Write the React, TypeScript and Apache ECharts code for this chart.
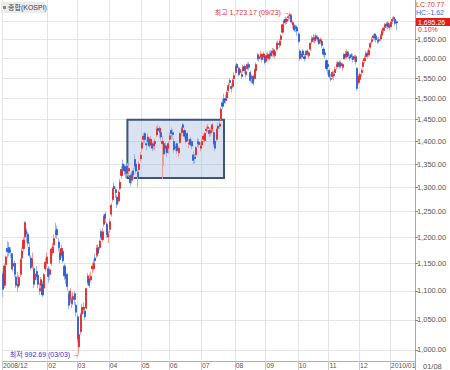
import { useEffect, useRef } from "react";
import * as echarts from "echarts";

// ---- trading days and OHLC ([open, close, low, high]) per month ----
const dec2008Days = [12, 15, 16, 17, 18, 19, 22, 23, 24, 26, 29, 30];
const dec2008 = [
  [1130, 1103, 1089, 1135], [1110, 1145, 1105, 1150], [1148, 1162, 1140, 1165], [1178, 1172, 1160, 1192],
  [1180, 1170, 1163, 1190], [1175, 1172, 1160, 1180], [1168, 1140, 1138, 1170], [1145, 1150, 1135, 1158],
  [1150, 1130, 1125, 1155], [1125, 1110, 1105, 1128], [1112, 1108, 1098, 1135], [1110, 1124, 1105, 1128],
];
const jan2009Days = [2, 5, 6, 7, 8, 9, 12, 13, 14, 15, 16, 19, 20, 21, 22, 23, 28, 29, 30];
const jan2009 = [
  [1130, 1157, 1125, 1160], [1160, 1173, 1150, 1180], [1178, 1194, 1172, 1200], [1200, 1228, 1195, 1231],
  [1212, 1206, 1190, 1218], [1205, 1188, 1180, 1210], [1180, 1165, 1160, 1190], [1160, 1142, 1137, 1165],
  [1145, 1158, 1140, 1170], [1140, 1112, 1105, 1145], [1120, 1130, 1112, 1140], [1135, 1126, 1120, 1145],
  [1128, 1112, 1105, 1132], [1100, 1104, 1093, 1115], [1110, 1120, 1100, 1125], [1112, 1093, 1089, 1118],
  [1105, 1129, 1100, 1132], [1140, 1152, 1135, 1160], [1150, 1162, 1140, 1170],
];
const feb2009Days = [2, 3, 4, 5, 6, 9, 10, 11, 12, 13, 16, 17, 18, 19, 20, 23, 24, 25, 26, 27];
const feb2009 = [
  [1140, 1126, 1115, 1145], [1130, 1138, 1120, 1142], [1150, 1177, 1145, 1180], [1170, 1181, 1165, 1188],
  [1185, 1197, 1178, 1205], [1205, 1212, 1198, 1228], [1215, 1204, 1196, 1222], [1190, 1180, 1172, 1198],
  [1170, 1157, 1150, 1178], [1165, 1178, 1160, 1185], [1172, 1155, 1150, 1178], [1145, 1127, 1120, 1150],
  [1122, 1128, 1112, 1135], [1130, 1108, 1100, 1132], [1095, 1075, 1068, 1100], [1085, 1100, 1078, 1105],
  [1085, 1078, 1070, 1090], [1085, 1090, 1075, 1098], [1095, 1085, 1075, 1100], [1075, 1063, 1055, 1080],
];
const mar2009Days = [2, 3, 4, 5, 6, 9, 10, 11, 12, 13, 16, 17, 18, 19, 20, 23, 24, 25, 26, 27, 30, 31];
const mar2009 = [
  [1055, 1018, 1012, 1060], [1005, 1025, 992.69, 1030], [1030, 1059, 1025, 1062], [1060, 1071, 1052, 1078],
  [1068, 1071, 1060, 1080], [1065, 1055, 1050, 1072], [1070, 1104, 1068, 1106], [1115, 1127, 1110, 1132],
  [1122, 1110, 1105, 1130], [1120, 1126, 1115, 1135], [1140, 1145, 1132, 1152], [1140, 1150, 1135, 1158],
  [1160, 1155, 1148, 1168], [1165, 1178, 1160, 1185], [1180, 1169, 1162, 1186], [1180, 1192, 1175, 1195],
  [1210, 1200, 1195, 1215], [1195, 1210, 1190, 1218], [1225, 1240, 1220, 1245], [1245, 1237, 1228, 1250],
  [1225, 1205, 1198, 1230], [1200, 1206, 1188, 1212],
];
const apr2009Days = [1, 2, 3, 6, 7, 8, 9, 10, 13, 14, 15, 16, 17, 20, 21, 22, 23, 24, 27, 28, 29, 30];
const apr2009 = [
  [1215, 1230, 1208, 1236], [1245, 1263, 1240, 1268], [1275, 1297, 1270, 1300], [1302, 1297, 1288, 1310],
  [1295, 1289, 1278, 1300], [1280, 1265, 1258, 1285], [1272, 1290, 1268, 1295], [1298, 1311, 1294, 1318],
  [1325, 1338, 1318, 1345], [1350, 1340, 1332, 1360], [1345, 1335, 1326, 1350], [1330, 1336, 1320, 1344],
  [1345, 1330, 1324, 1352], [1335, 1340, 1326, 1348], [1325, 1310, 1302, 1330], [1315, 1328, 1308, 1334],
  [1335, 1327, 1318, 1342], [1360, 1345, 1338, 1372], [1350, 1335, 1328, 1356], [1332, 1322, 1300, 1338],
  [1338, 1350, 1332, 1356], [1362, 1369, 1356, 1376],
];
const may2009Days = [4, 6, 7, 8, 11, 12, 13, 14, 15, 18, 19, 20, 21, 22, 25, 26, 27, 28, 29];
const may2009 = [
  [1385, 1397, 1378, 1402], [1405, 1412, 1395, 1420], [1418, 1405, 1396, 1422], [1395, 1392, 1380, 1405],
  [1400, 1410, 1392, 1418], [1405, 1390, 1385, 1410], [1392, 1405, 1388, 1412], [1395, 1385, 1378, 1400],
  [1390, 1395, 1382, 1402], [1395, 1400, 1380, 1405], [1415, 1428, 1410, 1435], [1430, 1425, 1415, 1438],
  [1420, 1430, 1408, 1435], [1420, 1410, 1400, 1425], [1395, 1400, 1318, 1412], [1395, 1372, 1345, 1400],
  [1385, 1390, 1375, 1398], [1385, 1375, 1365, 1392], [1385, 1395, 1372, 1400],
];
const jun2009Days = [1, 2, 3, 4, 5, 8, 9, 10, 11, 12, 15, 16, 17, 18, 19, 22, 23, 24, 25, 26, 29, 30];
const jun2009 = [
  [1405, 1413, 1398, 1420], [1425, 1418, 1410, 1432], [1420, 1416, 1405, 1428], [1400, 1382, 1375, 1405],
  [1385, 1388, 1378, 1395], [1395, 1379, 1372, 1398], [1375, 1385, 1365, 1390], [1398, 1418, 1395, 1422],
  [1420, 1430, 1412, 1435], [1438, 1432, 1425, 1442], [1425, 1412, 1405, 1430], [1400, 1413, 1395, 1418],
  [1418, 1402, 1398, 1422], [1395, 1396, 1385, 1405], [1405, 1393, 1388, 1410], [1400, 1390, 1382, 1405],
  [1370, 1358, 1350, 1378], [1365, 1362, 1352, 1372], [1370, 1386, 1365, 1390], [1395, 1400, 1388, 1408],
  [1398, 1393, 1385, 1405], [1385, 1390, 1378, 1398],
];
const jul2009Days = [1, 2, 3, 6, 7, 8, 9, 10, 13, 14, 15, 16, 17, 20, 21, 22, 23, 24, 27, 28, 29, 30, 31];
const jul2009 = [
  [1392, 1400, 1385, 1405], [1405, 1412, 1398, 1418], [1402, 1418, 1398, 1422], [1425, 1428, 1418, 1435],
  [1430, 1433, 1422, 1440], [1425, 1418, 1410, 1430], [1420, 1425, 1412, 1432], [1428, 1438, 1420, 1442],
  [1420, 1395, 1388, 1425], [1400, 1385, 1378, 1408], [1405, 1428, 1400, 1432], [1435, 1430, 1425, 1442],
  [1435, 1440, 1428, 1446], [1452, 1475, 1450, 1480], [1490, 1482, 1475, 1500], [1500, 1490, 1482, 1512],
  [1500, 1496, 1488, 1510], [1502, 1515, 1495, 1520], [1520, 1532, 1515, 1540], [1545, 1540, 1530, 1550],
  [1530, 1525, 1515, 1538], [1530, 1545, 1525, 1550], [1550, 1557, 1545, 1565],
];
const aug2009Days = [3, 4, 5, 6, 7, 10, 11, 12, 13, 14, 17, 18, 19, 20, 21, 24, 25, 26, 27, 28, 31];
const aug2009 = [
  [1565, 1580, 1560, 1586], [1585, 1577, 1570, 1590], [1575, 1560, 1555, 1580], [1565, 1572, 1558, 1578],
  [1560, 1555, 1548, 1568], [1570, 1578, 1565, 1585], [1580, 1570, 1562, 1585], [1560, 1567, 1552, 1572],
  [1575, 1585, 1570, 1590], [1585, 1578, 1570, 1592], [1565, 1545, 1540, 1570], [1550, 1555, 1538, 1560],
  [1555, 1538, 1532, 1560], [1550, 1572, 1545, 1575], [1570, 1585, 1565, 1590], [1600, 1610, 1595, 1615],
  [1605, 1600, 1592, 1612], [1605, 1612, 1598, 1620], [1605, 1598, 1590, 1612], [1605, 1612, 1598, 1618],
  [1605, 1591, 1585, 1610],
];
const sep2009Days = [1, 2, 3, 4, 7, 8, 9, 10, 11, 14, 15, 16, 17, 18, 21, 22, 23, 24, 25, 28, 29, 30];
const sep2009 = [
  [1595, 1608, 1590, 1615], [1610, 1602, 1595, 1618], [1600, 1612, 1595, 1620], [1615, 1607, 1600, 1622],
  [1615, 1620, 1605, 1628], [1622, 1610, 1605, 1628], [1608, 1618, 1600, 1625], [1625, 1640, 1620, 1645],
  [1640, 1637, 1628, 1648], [1635, 1645, 1628, 1652], [1650, 1660, 1645, 1665], [1670, 1690, 1665, 1693],
  [1695, 1700, 1688, 1705], [1705, 1698, 1690, 1712], [1700, 1705, 1692, 1710], [1710, 1712, 1700, 1718],
  [1715, 1718, 1705, 1723.17], [1715, 1698, 1692, 1720], [1690, 1696, 1680, 1702], [1688, 1676, 1670, 1692],
  [1685, 1680, 1670, 1690], [1682, 1673, 1660, 1688],
];
const oct2009Days = [1, 5, 6, 7, 8, 9, 12, 13, 14, 15, 16, 19, 20, 21, 22, 23, 26, 27, 28, 29, 30];
const oct2009 = [
  [1665, 1645, 1640, 1670], [1620, 1600, 1595, 1625], [1605, 1612, 1598, 1618], [1620, 1610, 1602, 1625],
  [1605, 1600, 1593, 1612], [1610, 1618, 1605, 1622], [1620, 1612, 1605, 1625], [1608, 1615, 1600, 1620],
  [1625, 1640, 1620, 1645], [1645, 1652, 1638, 1660], [1655, 1650, 1642, 1665], [1648, 1655, 1640, 1662],
  [1660, 1652, 1645, 1666], [1650, 1656, 1642, 1662], [1650, 1640, 1635, 1655], [1645, 1650, 1638, 1655],
  [1645, 1635, 1628, 1650], [1625, 1612, 1605, 1630], [1615, 1610, 1600, 1620], [1595, 1575, 1568, 1600],
  [1585, 1580, 1560, 1592],
];
const nov2009Days = [2, 3, 4, 5, 6, 9, 10, 11, 12, 13, 16, 17, 18, 19, 20, 23, 24, 25, 26, 27, 30];
const nov2009 = [
  [1570, 1555, 1550, 1575], [1550, 1548, 1542, 1562], [1555, 1565, 1548, 1570], [1560, 1556, 1545, 1568],
  [1565, 1572, 1560, 1580], [1580, 1585, 1572, 1592], [1590, 1580, 1575, 1595], [1580, 1590, 1575, 1595],
  [1588, 1582, 1575, 1595], [1578, 1585, 1570, 1590], [1600, 1610, 1598, 1615], [1612, 1605, 1598, 1620],
  [1605, 1618, 1600, 1625], [1615, 1608, 1600, 1620], [1605, 1602, 1595, 1612], [1610, 1605, 1598, 1615],
  [1605, 1598, 1590, 1612], [1600, 1605, 1592, 1610], [1605, 1592, 1585, 1610], [1575, 1525, 1520, 1578],
  [1540, 1555, 1535, 1560],
];
const dec2009Days = [1, 2, 3, 4, 7, 8, 9, 10, 11, 14, 15, 16, 17, 18, 21, 22, 23, 24, 28, 29, 30];
const dec2009 = [
  [1548, 1560, 1540, 1565], [1565, 1570, 1555, 1575], [1580, 1590, 1575, 1596], [1595, 1600, 1588, 1608],
  [1605, 1612, 1598, 1620], [1615, 1608, 1600, 1622], [1610, 1622, 1605, 1628], [1630, 1640, 1625, 1645],
  [1645, 1650, 1638, 1658], [1655, 1660, 1648, 1665], [1665, 1655, 1648, 1668], [1660, 1650, 1642, 1665],
  [1648, 1645, 1638, 1655], [1650, 1648, 1640, 1658], [1652, 1660, 1645, 1666], [1662, 1672, 1658, 1678],
  [1675, 1680, 1668, 1685], [1683, 1690, 1678, 1695], [1692, 1688, 1680, 1698], [1685, 1695, 1678, 1700],
  [1690, 1683, 1675, 1695],
];
const jan2010Days = [4, 5, 6, 7, 8];
const jan2010 = [
  [1685, 1697, 1680, 1700], [1700, 1705, 1693, 1712], [1710, 1706, 1700, 1715], [1705, 1694, 1688, 1710],
  [1698, 1695.26, 1675, 1702],
];

// month key, axis tag ("" = no label / no grid line), days, values
const months: [string, string, number[], number[][]][] = [
  ["2008/12", "2008/12", dec2008Days, dec2008],
  ["2009/01", "", jan2009Days, jan2009],
  ["2009/02", "02", feb2009Days, feb2009],
  ["2009/03", "03", mar2009Days, mar2009],
  ["2009/04", "04", apr2009Days, apr2009],
  ["2009/05", "05", may2009Days, may2009],
  ["2009/06", "06", jun2009Days, jun2009],
  ["2009/07", "07", jul2009Days, jul2009],
  ["2009/08", "08", aug2009Days, aug2009],
  ["2009/09", "09", sep2009Days, sep2009],
  ["2009/10", "10", oct2009Days, oct2009],
  ["2009/11", "11", nov2009Days, nov2009],
  ["2009/12", "12", dec2009Days, dec2009],
  ["2010/01", "2010/01", jan2010Days, jan2010],
];

const yTickValues = [1000, 1050, 1100, 1150, 1200, 1250, 1300, 1350, 1400, 1450, 1500, 1550, 1600, 1650, 1700];
const yLabelValues = [1000, 1050, 1100, 1150, 1200, 1250, 1300, 1350, 1400, 1450, 1500, 1550, 1600, 1650];
const boxRange = { from: "2009/04/17", to: "2009/07/22", top: 1450, bottom: 1320 };
const lowPoint = { date: "2009/03/03", value: 992.69, text: "최저 992.69 (03/03)" };
const highPoint = { date: "2009/09/23", value: 1723.17, text: "최고 1,723.17 (09/23)" };
const infoLC = "LC:70.77";
const infoHC = "HC:-1.62";
const lastPrice = "1,695.26";
const lastChange = "0.10%";
const lastDate = "01/08";
const seriesName = "종합(KOSPI)";
const emptySlots = 12;

const FONT = "'Liberation Sans', 'Noto Sans CJK KR', sans-serif";

export default function App() {
  const ref = useRef<HTMLDivElement>(null);

  useEffect(() => {
    if (!ref.current) return;
    const chart = echarts.init(ref.current, undefined, { renderer: "svg" });

    const dates: string[] = [];
    const ohlc: number[][] = [];
    const tagAt = new Map<number, string>();
    months.forEach(([ym, tag, days, vals]) => {
      if (tag) tagAt.set(dates.length, tag);
      days.forEach((d, i) => {
        dates.push(`${ym}/${String(d).padStart(2, "0")}`);
        ohlc.push(vals[i]);
      });
    });
    for (let i = 0; i < emptySlots; i++) dates.push(`pad${i}`);

    const bodies = ohlc.map(([o, c]) => [o, c, Math.min(o, c), Math.max(o, c)]);
    const showTag = (idx: number) => tagAt.has(idx);
    const fmt = (v: number) =>
      Math.round(v).toLocaleString("en-US", { minimumFractionDigits: 2, maximumFractionDigits: 2 });

    chart.setOption({
      animation: false,
      backgroundColor: "#ffffff",
      grid: { left: 0, right: 35, top: 0, bottom: 9, containLabel: false },
      xAxis: {
        type: "category",
        data: dates,
        boundaryGap: true,
        axisLine: { show: true, lineStyle: { color: "#b0b0b0", width: 1 } },
        axisTick: { show: true, interval: showTag, length: 9, lineStyle: { color: "#c8c8c8" } },
        axisLabel: {
          interval: showTag,
          formatter: (_v: string, i: number) => tagAt.get(i) ?? "",
          align: "left",
          margin: 1,
          fontSize: 6.8,
          color: "#555555",
          fontFamily: FONT,
        },
        splitLine: { show: true, interval: showTag, lineStyle: { color: "#e4e4e4" } },
      },
      yAxis: {
        type: "log",
        logBase: 10,
        min: 982.4,
        max: 1759,
        position: "right",
        axisLine: { show: true, lineStyle: { color: "#a8a8a8" } },
        axisTick: { show: true, customValues: yTickValues, length: 3, lineStyle: { color: "#888888" } },
        axisLabel: {
          customValues: yLabelValues,
          formatter: (v: number) => fmt(v),
          fontSize: 7.5,
          color: "#555555",
          margin: 2,
          fontFamily: FONT,
        },
        splitLine: { show: true, lineStyle: { color: "#e4e4e4" } },
      },
      series: [
        {
          type: "candlestick",
          data: ohlc,
          barWidth: 1.6,
          silent: true,
          itemStyle: {
            color: "#f09a9a",
            color0: "#98b8ee",
            borderColor: "#f09a9a",
            borderColor0: "#98b8ee",
            borderWidth: 1,
          },
          markArea: {
            silent: true,
            itemStyle: { color: "rgba(160,185,220,0.4)", borderColor: "#3b5679", borderWidth: 2 },
            data: [[
              { xAxis: boxRange.from, yAxis: boxRange.top },
              { xAxis: boxRange.to, yAxis: boxRange.bottom },
            ]],
          },
          markPoint: {
            silent: true,
            symbol: "circle",
            symbolSize: 0,
            data: [
              {
                coord: [lowPoint.date, lowPoint.value],
                label: {
                  show: true, position: "left", distance: 0, formatter: `${lowPoint.text} →`,
                  color: "#3535c8", fontSize: 7, fontFamily: FONT,
                },
              },
              {
                coord: [highPoint.date, highPoint.value],
                label: {
                  show: true, position: "left", distance: 0, formatter: `${highPoint.text} →`,
                  color: "#e03030", fontSize: 7, fontFamily: FONT,
                },
              },
            ],
          },
        },
        {
          type: "candlestick",
          data: bodies,
          barWidth: 1.6,
          silent: true,
          itemStyle: {
            color: "#e42a2a",
            color0: "#2c60d2",
            borderColor: "#e42a2a",
            borderColor0: "#2c60d2",
            borderWidth: 0.8,
          },
        },
      ],
      graphic: [
        { type: "rect", shape: { x: 1, y: 2, width: 44, height: 11 }, style: { fill: "#ebebeb" }, z: 10 },
        { type: "rect", shape: { x: 3, y: 6, width: 3, height: 3 }, style: { fill: "#8a8a8a" }, z: 11 },
        {
          type: "text", x: 8, y: 3.5, z: 11,
          style: { text: seriesName, fontSize: 7, fill: "#444444", fontFamily: FONT, verticalAlign: "top" },
        },
        {
          type: "text", x: 416, y: 1, z: 11,
          style: { text: infoLC, fontSize: 7, fill: "#e03030", fontFamily: FONT, verticalAlign: "top" },
        },
        {
          type: "text", x: 416, y: 9, z: 11,
          style: { text: infoHC, fontSize: 7, fill: "#3a6ad0", fontFamily: FONT, verticalAlign: "top" },
        },
        { type: "rect", shape: { x: 416, y: 18, width: 34, height: 8 }, style: { fill: "#e21b1b" }, z: 11 },
        {
          type: "text", x: 418, y: 18.5, z: 12,
          style: { text: lastPrice, fontSize: 7, fill: "#ffffff", fontFamily: FONT, verticalAlign: "top" },
        },
        {
          type: "text", x: 418, y: 26, z: 11,
          style: { text: lastChange, fontSize: 7, fill: "#e03030", fontFamily: FONT, verticalAlign: "top" },
        },
        {
          type: "line", z: 11,
          shape: { x1: 415.5, y1: 361, x2: 415.5, y2: 370 },
          style: { stroke: "#a8a8a8", lineWidth: 1 },
        },
        {
          type: "text", x: 423, y: 362.5, z: 11,
          style: { text: lastDate, fontSize: 7.5, fill: "#555555", fontFamily: FONT, verticalAlign: "top" },
        },
      ],
    });

    return () => chart.dispose();
  }, []);

  return (
    <div
      ref={ref}
      style={{ position: "absolute", left: 0, top: 0, width: 450, height: 370, background: "#fff" }}
    />
  );
}
